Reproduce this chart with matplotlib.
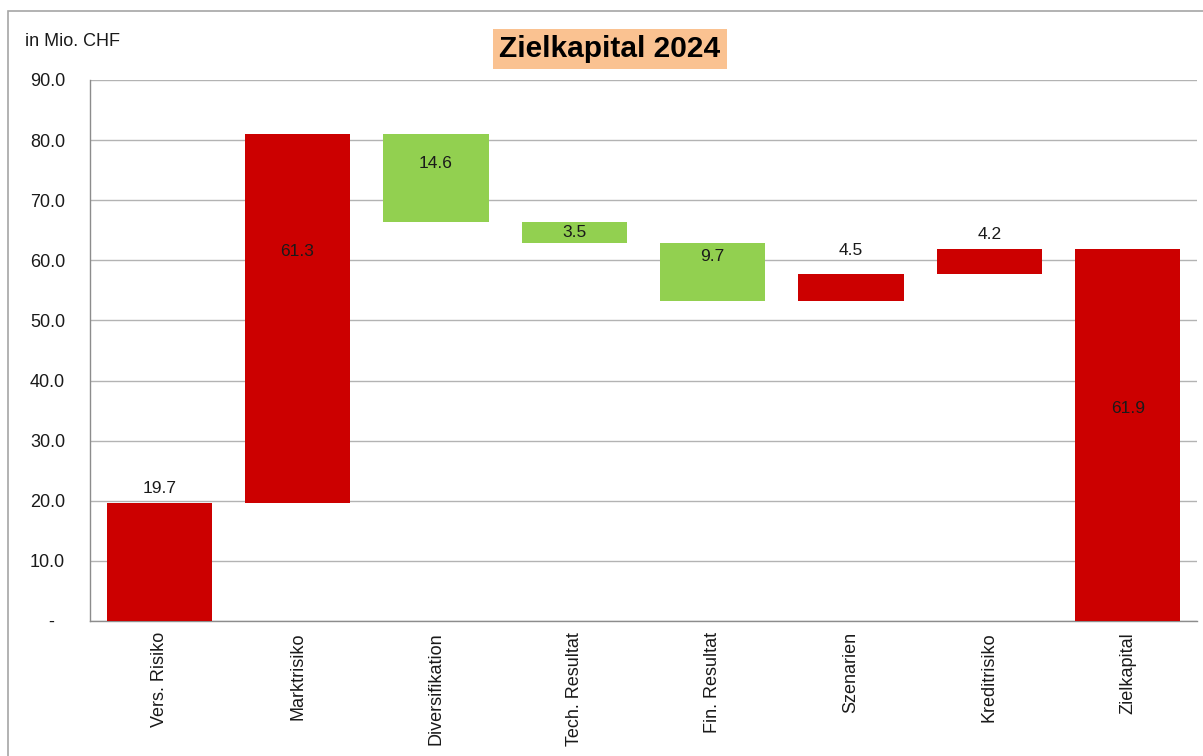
import matplotlib.pyplot as plt
from matplotlib.patches import Rectangle

plt.rcParams["font.family"] = ["Liberation Sans", "DejaVu Sans"]

# Daten (in Mio. CHF)
kategorien = [
    "Vers. Risiko",
    "Marktrisiko",
    "Diversifikation",
    "Tech. Resultat",
    "Fin. Resultat",
    "Szenarien",
    "Kreditrisiko",
    "Zielkapital",
]
veraenderung = [19.7, 61.3, -14.6, -3.5, -9.7, 4.5, 4.2, 61.9]
ist_total = [False, False, False, False, False, False, False, True]

ROT = "#CC0000"
GRUEN = "#92D050"

# Position der Beschriftung relativ zur Balkenhoehe (1.0 = Oberkante)
label_frac = [1.12, 0.68, 0.67, 0.51, 0.76, 1.87, 1.57, 0.57]

fig = plt.figure(figsize=(12.03, 7.56), dpi=100)
ax = fig.add_axes([0.0748, 0.1786, 0.9202, 0.7156])

# Rahmen um das Diagramm
fig.patches.append(Rectangle((8 / 1203, -0.1), 1.2, 1 - 11 / 756 + 0.1,
                             transform=fig.transFigure, fill=False,
                             edgecolor="#A6A6A6", linewidth=1.2))

stand = 0.0
for i, (name, wert) in enumerate(zip(kategorien, veraenderung)):
    if ist_total[i]:
        unten, hoehe = 0.0, wert
        farbe = ROT
    elif wert >= 0:
        unten, hoehe = stand, wert
        farbe = ROT
        stand += wert
    else:
        unten, hoehe = stand + wert, -wert
        farbe = GRUEN
        stand += wert

    ax.bar(i + 0.5, hoehe, bottom=unten, width=0.76, color=farbe, zorder=3)
    ax.text(i + 0.5, unten + hoehe * label_frac[i], f"{abs(wert):.1f}",
            ha="center", va="center", fontsize=12.5, color="#1a1a1a",
            zorder=4)

ax.set_xlim(0, len(kategorien))
ax.set_ylim(0, 90)
ax.set_yticks(range(0, 91, 10))
ax.set_yticklabels(["-  " if v == 0 else f"{v:.1f}" for v in range(0, 91, 10)])
ax.set_xticks([i + 0.5 for i in range(len(kategorien))])
ax.set_xticklabels(kategorien, rotation=90, ha="center", va="top")

ax.tick_params(axis="both", length=0, labelsize=13, colors="#1a1a1a")
ax.tick_params(axis="y", pad=18)
ax.tick_params(axis="x", pad=8)

ax.grid(axis="y", color="#B3B3B3", linewidth=1, zorder=0)
for s in ["top", "right"]:
    ax.spines[s].set_visible(False)
for s in ["left", "bottom"]:
    ax.spines[s].set_color("#8C8C8C")
    ax.spines[s].set_linewidth(1)

fig.text(25 / 1203, 1 - 42 / 756, "in Mio. CHF", fontsize=13,
         color="#1a1a1a", va="center", ha="left")
fig.text(610 / 1203, 1 - 49 / 756, "Zielkapital 2024", fontsize=21.5,
         fontweight="bold", ha="center", va="center",
         bbox=dict(boxstyle="square,pad=0.2", facecolor="#FAC291",
                   edgecolor="none"))

fig.savefig("out.png", dpi=100)
